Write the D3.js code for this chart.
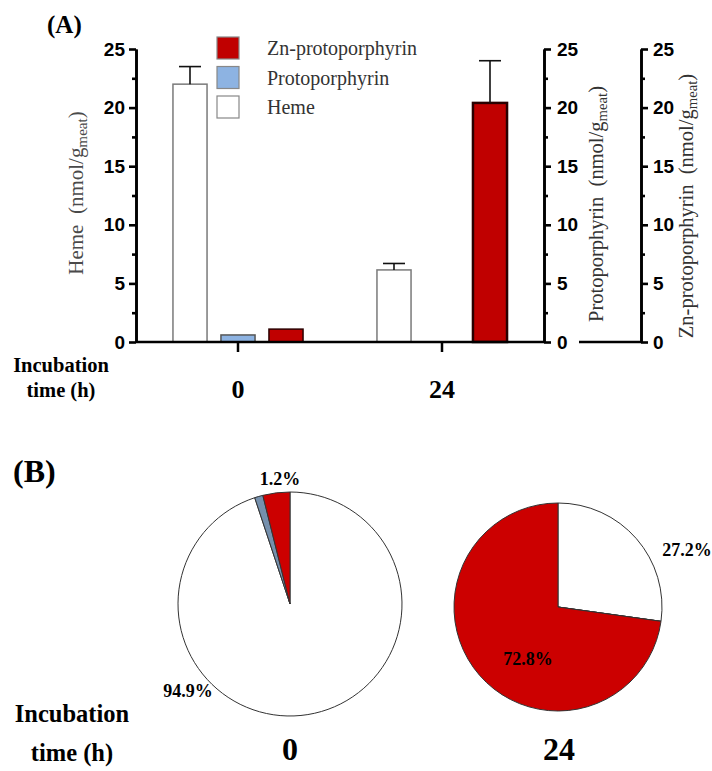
<!DOCTYPE html>
<html>
<head>
<meta charset="utf-8">
<script src="https://cdn.jsdelivr.net/npm/d3@7"></script>
<style>
  body { margin: 0; background: #fff; }
  svg { display: block; }
  .tick text { font-family: "Liberation Sans", Arial, sans-serif; font-weight: bold; font-size: 19px; fill: #000; }
</style>
</head>
<body>
<div class="chart"></div>
<script>
var svgWidth = 712;
var svgHeight = 771;
var serif = '"Liberation Serif", "Times New Roman", serif';

// data
var groups = ["0", "24"];
var series = ["Heme", "Protoporphyrin", "Zn-protoporphyrin"];
var hemeVals = [22.0, 6.15];
var hemeErr = [1.5, 0.55];
var protoVals = [0.6, 0];
var protoErr = [0, 0];
var znVals = [1.1, 20.4];
var znErr = [0, 3.6];
var yTicks = [0, 5, 10, 15, 20, 25];
var yMinor = [2.5, 7.5, 12.5, 17.5, 22.5];

var pie0 = [94.9, 1.2, 3.9];     // heme, proto, zn
var pie24 = [27.2, 0, 72.8];
var pie0Labels = ["94.9%", "1.2%", ""];
var pie24Labels = ["27.2%", "", "72.8%"];

var barFill = {"Heme": "#ffffff", "Protoporphyrin": "#8db3e2", "Zn-protoporphyrin": "#c00000"};
var barStroke = {"Heme": "#7a7a7a", "Protoporphyrin": "#555", "Zn-protoporphyrin": "#2a0000"};
var pieFill = ["#ffffff", "#7590ad", "#cc0000"];

var svg = d3.select(".chart")
  .append("svg")
  .attr("width", svgWidth)
  .attr("height", svgHeight);

// ---------- (A) bar chart ----------
var axL = 136, axR1 = 544, axR2 = 641;
var y0 = 342, yTop = 49;

var yScale = d3.scaleLinear().domain([0, 25]).range([y0, yTop]);
var yProto = d3.scaleLinear().domain([0, 25]).range([y0, yTop]);
var yZn = d3.scaleLinear().domain([0, 25]).range([y0, yTop]);

var x0 = d3.scaleBand().domain(groups).range([axL, axR1]).padding(0);
var x1 = d3.scaleBand().domain(series).range([-72, 72]).paddingInner(0.29).paddingOuter(0.145);

var rows = [];
groups.forEach(function(g, i) {
  rows.push({g: g, s: "Heme", v: hemeVals[i], e: hemeErr[i], sc: yScale});
  rows.push({g: g, s: "Protoporphyrin", v: protoVals[i], e: protoErr[i], sc: yProto});
  rows.push({g: g, s: "Zn-protoporphyrin", v: znVals[i], e: znErr[i], sc: yZn});
});
rows = rows.filter(d => d.v > 0);

function cx(d) { return x0(d.g) + x0.bandwidth() / 2 + x1(d.s) + x1.bandwidth() / 2; }

svg.append("g").selectAll("rect")
  .data(rows)
  .enter()
  .append("rect")
  .attr("x", d => x0(d.g) + x0.bandwidth() / 2 + x1(d.s))
  .attr("y", d => d.sc(d.v))
  .attr("width", x1.bandwidth())
  .attr("height", d => d.sc(0) - d.sc(d.v))
  .attr("fill", d => barFill[d.s])
  .attr("stroke", d => barStroke[d.s])
  .attr("stroke-width", d => d.s == "Zn-protoporphyrin" && d.v > 10 ? 2.5 : 1.5);

var errs = svg.append("g").selectAll("g")
  .data(rows.filter(d => d.e > 0))
  .enter()
  .append("g")
  .attr("stroke", "#111")
  .attr("stroke-width", 1.6);
errs.append("line")
  .attr("x1", cx).attr("x2", cx)
  .attr("y1", d => d.sc(d.v)).attr("y2", d => d.sc(d.v + d.e));
errs.append("line")
  .attr("x1", d => cx(d) - 11).attr("x2", d => cx(d) + 11)
  .attr("y1", d => d.sc(d.v + d.e)).attr("y2", d => d.sc(d.v + d.e));

// baseline + group ticks
svg.append("line")
  .attr("x1", axL).attr("x2", axR1)
  .attr("y1", y0).attr("y2", y0)
  .attr("stroke", "#000").attr("stroke-width", 2.5);
svg.append("g").selectAll("line")
  .data(groups)
  .enter()
  .append("line")
  .attr("x1", d => x0(d) + x0.bandwidth() / 2)
  .attr("x2", d => x0(d) + x0.bandwidth() / 2)
  .attr("y1", y0).attr("y2", y0 + 10)
  .attr("stroke", "#000").attr("stroke-width", 2.5);
// little zero stub between the right axes
svg.append("line")
  .attr("x1", 579).attr("x2", axR2)
  .attr("y1", y0).attr("y2", y0)
  .attr("stroke", "#000").attr("stroke-width", 2.5);

function styleAxis(g) {
  g.select(".domain").attr("stroke-width", 2.6);
  g.selectAll(".tick line").attr("stroke-width", 2.6);
}

svg.append("g")
  .attr("transform", `translate(${axL},0)`)
  .call(d3.axisLeft(yScale).tickValues(yMinor).tickSize(4).tickSizeOuter(0).tickFormat(""))
  .call(styleAxis);
svg.append("g")
  .attr("transform", `translate(${axL},0)`)
  .call(d3.axisLeft(yScale).tickValues(yTicks).tickSize(7).tickSizeOuter(0).tickPadding(4))
  .call(styleAxis);

[[axR1, yProto, 6], [axR2, yZn, 5]].forEach(function(a) {
  svg.append("g")
    .attr("transform", `translate(${a[0]},0)`)
    .call(d3.axisRight(a[1]).tickValues(yMinor).tickSize(4).tickSizeOuter(0).tickFormat(""))
    .call(styleAxis);
  svg.append("g")
    .attr("transform", `translate(${a[0]},0)`)
    .call(d3.axisRight(a[1]).tickValues(yTicks).tickSize(7).tickSizeOuter(0).tickPadding(a[2]))
    .call(styleAxis);
});

// axis titles
function yTitle(x, yc, name, color, size) {
  var t = svg.append("text")
    .style("font-family", serif)
    .attr("transform", `translate(${x},${yc}) rotate(-90)`)
    .attr("text-anchor", "middle")
    .attr("font-size", size)
    .attr("fill", color);
  t.append("tspan").text(name + "\u00a0\u00a0(nmol/g");
  t.append("tspan").attr("font-size", size * 0.72).attr("dy", 4).text("meat");
  t.append("tspan").attr("dy", -4).text(")");
}
yTitle(83, 193, "Heme", "#4a4a4a", 21);
yTitle(603, 204, "Protoporphyrin", "#333", 20.5);
yTitle(693, 206, "Zn-protoporphyrin", "#333", 20.5);

// legend
var legend = svg.append("g").style("font-family", serif);
series.slice().reverse().forEach(function(s, i) {
  legend.append("rect")
    .attr("x", 217).attr("y", 37 + i * 29.5)
    .attr("width", 22).attr("height", 22)
    .attr("fill", barFill[s])
    .attr("stroke", "#888").attr("stroke-width", 1.2);
  legend.append("text")
    .attr("x", 267).attr("y", 55 + i * 29.5)
    .attr("font-size", 20)
    .attr("fill", "#333")
    .text(s);
});

svg.append("text").style("font-family", serif)
  .attr("x", 47).attr("y", 33)
  .attr("font-size", 25).attr("font-weight", "bold")
  .text("(A)");

function timeLabel(xc, yb, size, gap) {
  var t = svg.append("text").style("font-family", serif)
    .attr("text-anchor", "middle")
    .attr("font-size", size).attr("font-weight", "bold");
  t.append("tspan").attr("x", xc).attr("y", yb).text("Incubation");
  t.append("tspan").attr("x", xc).attr("y", yb + gap).text("time (h)");
}
timeLabel(61, 372, 20.5, 25);

svg.append("g").selectAll("text")
  .data(groups)
  .enter()
  .append("text")
  .style("font-family", serif)
  .attr("x", d => x0(d) + x0.bandwidth() / 2)
  .attr("y", 398)
  .attr("text-anchor", "middle")
  .attr("font-size", 26).attr("font-weight", "bold")
  .text(d => d);

// ---------- (B) pies ----------
svg.append("text").style("font-family", serif)
  .attr("x", 13).attr("y", 482)
  .attr("font-size", 32).attr("font-weight", "bold")
  .text("(B)");
timeLabel(72, 722, 24.5, 39);

var pie = d3.pie().sort(null).value(d => d);

function drawPie(vals, labels, cxp, cyp, r, labelPos) {
  var arc = d3.arc().innerRadius(0).outerRadius(r);
  var g = svg.append("g").attr("transform", `translate(${cxp},${cyp})`);
  g.selectAll("path")
    .data(pie(vals))
    .enter()
    .append("path")
    .attr("d", arc)
    .attr("fill", (d, i) => pieFill[i])
    .attr("stroke", "#333")
    .attr("stroke-width", 1);
  labels.forEach(function(l, i) {
    if (!l) return;
    g.append("text").style("font-family", serif)
      .attr("x", labelPos[i][0]).attr("y", labelPos[i][1])
      .attr("text-anchor", "middle")
      .attr("font-size", 18).attr("font-weight", "bold")
      .text(l);
  });
}
drawPie(pie0, pie0Labels, 290, 604, 112, [[-102, 93], [-10, -119], [0, 0]]);
drawPie(pie24, pie24Labels, 558, 607, 104, [[129, -51], [0, 0], [-30, 58]]);

svg.append("g").selectAll("text")
  .data(groups)
  .enter()
  .append("text")
  .style("font-family", serif)
  .attr("x", (d, i) => [290, 559][i])
  .attr("y", 760)
  .attr("text-anchor", "middle")
  .attr("font-size", 32).attr("font-weight", "bold")
  .text(d => d);
</script>
</body>
</html>
